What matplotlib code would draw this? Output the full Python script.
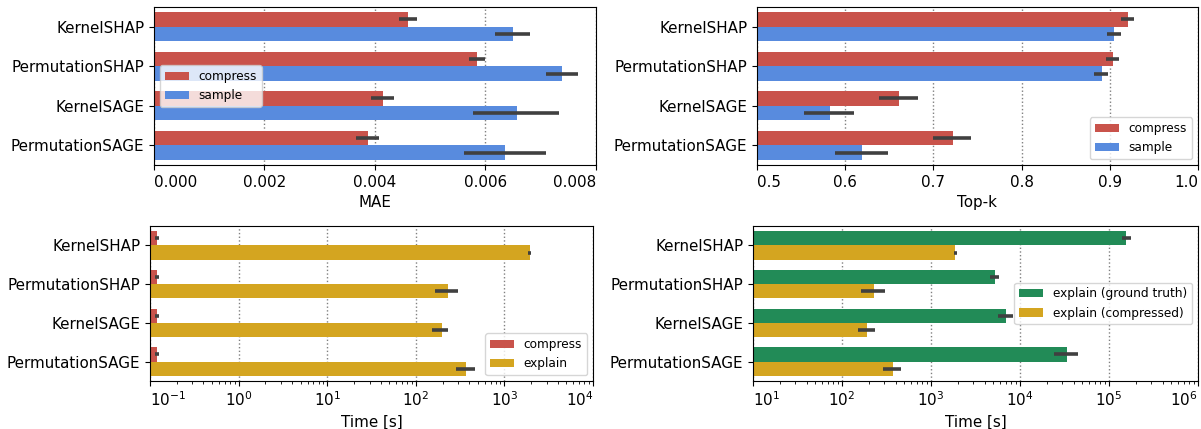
import numpy as np
import matplotlib
matplotlib.use("Agg")
import matplotlib.pyplot as plt

plt.rcParams['font.size'] = 10.9

methods = ["KernelSHAP", "PermutationSHAP", "KernelSAGE", "PermutationSAGE"]

# MAE (top left)
mae_compress = [0.00459, 0.00585, 0.00414, 0.00387]
mae_compress_lo = [0.00444, 0.00570, 0.00393, 0.00365]
mae_compress_hi = [0.00476, 0.00599, 0.00435, 0.00407]
mae_sample = [0.00649, 0.00739, 0.00657, 0.00635]
mae_sample_lo = [0.00618, 0.00710, 0.00578, 0.00561]
mae_sample_hi = [0.00681, 0.00768, 0.00733, 0.00709]

# Top-k (top right)
topk_compress = [0.921, 0.904, 0.661, 0.722]
topk_compress_lo = [0.913, 0.896, 0.638, 0.700]
topk_compress_hi = [0.928, 0.911, 0.683, 0.743]
topk_sample = [0.905, 0.891, 0.583, 0.619]
topk_sample_lo = [0.897, 0.882, 0.553, 0.588]
topk_sample_hi = [0.913, 0.898, 0.610, 0.648]

# Time (bottom left)
time_compress = [0.120, 0.120, 0.120, 0.120]
time_compress_lo = [0.115, 0.115, 0.115, 0.115]
time_compress_hi = [0.127, 0.127, 0.127, 0.127]
time_explain = [1919, 231, 195, 371]
time_explain_lo = [1850, 163, 152, 284]
time_explain_hi = [1990, 301, 230, 462]

# Time (bottom right)
time_gt = [156700, 5240, 6980, 33700]
time_gt_lo = [139000, 4590, 5610, 23800]
time_gt_hi = [175000, 5840, 8350, 44600]
time_cmp = [1875, 229, 193, 372]
time_cmp_lo = [1830, 163, 152, 288]
time_cmp_hi = [1960, 305, 233, 464]

red = "#C9534B"
blue = "#588BDE"
green = "#228B57"
gold = "#D4A520"
err_color = "#404040"


def draw(ax, series, xlim, xlabel, legend_loc, log=False, ticks=None):
    if log:
        ax.set_xscale("log")
    y = np.arange(len(methods))
    offsets = [-0.185, 0.185]
    for (vals, lo, hi, color, label), off in zip(series, offsets):
        vals = np.array(vals)
        ax.barh(y + off, vals, height=0.37, color=color, label=label)
        xerr = [vals - np.array(lo), np.array(hi) - vals]
        ax.errorbar(vals, y + off, xerr=xerr, fmt="none", ecolor=err_color,
                    elinewidth=2.6, capsize=0)
    ax.set_yticks(y)
    ax.set_yticklabels(methods)
    ax.set_ylim(3.5, -0.5)
    if ticks is not None:
        ax.set_xticks(ticks)
    ax.set_xlim(*xlim)
    ax.set_xlabel(xlabel)
    ax.grid(axis="x", linestyle=":", color="gray", linewidth=1.0)
    ax.set_axisbelow(True)
    labels = ax.get_xticklabels()
    labels[0].set_ha("left")
    labels[-1].set_ha("right")
    ax.legend(loc=legend_loc, fontsize=8.7)


fig = plt.figure(figsize=(12.01, 4.29), dpi=100)
ax1 = fig.add_axes([0.1282, 0.6154, 0.3680, 0.3683])
ax2 = fig.add_axes([0.6303, 0.6154, 0.3672, 0.3683])
ax3 = fig.add_axes([0.1249, 0.1119, 0.3689, 0.3613])
ax4 = fig.add_axes([0.6270, 0.1119, 0.3705, 0.3613])

draw(ax1, [(mae_compress, mae_compress_lo, mae_compress_hi, red, "compress"),
           (mae_sample, mae_sample_lo, mae_sample_hi, blue, "sample")],
     (0, 0.008), "MAE", "center left",
     ticks=[0, 0.002, 0.004, 0.006, 0.008])
ax1.set_xticklabels(["0.000", "0.002", "0.004", "0.006", "0.008"])
ax1.get_xticklabels()[0].set_ha("left")
ax1.get_xticklabels()[-1].set_ha("right")

draw(ax2, [(topk_compress, topk_compress_lo, topk_compress_hi, red, "compress"),
           (topk_sample, topk_sample_lo, topk_sample_hi, blue, "sample")],
     (0.5, 1.0), "Top-k", "lower right",
     ticks=[0.5, 0.6, 0.7, 0.8, 0.9, 1.0])

draw(ax3, [(time_compress, time_compress_lo, time_compress_hi, red, "compress"),
           (time_explain, time_explain_lo, time_explain_hi, gold, "explain")],
     (0.1, 1e4), "Time [s]", "lower right", log=True,
     ticks=[0.1, 1, 10, 100, 1e3, 1e4])

draw(ax4, [(time_gt, time_gt_lo, time_gt_hi, green, "explain (ground truth)"),
           (time_cmp, time_cmp_lo, time_cmp_hi, gold, "explain (compressed)")],
     (10, 1e6), "Time [s]", "center right", log=True,
     ticks=[10, 100, 1e3, 1e4, 1e5, 1e6])

fig.savefig("out.png", dpi=100)
